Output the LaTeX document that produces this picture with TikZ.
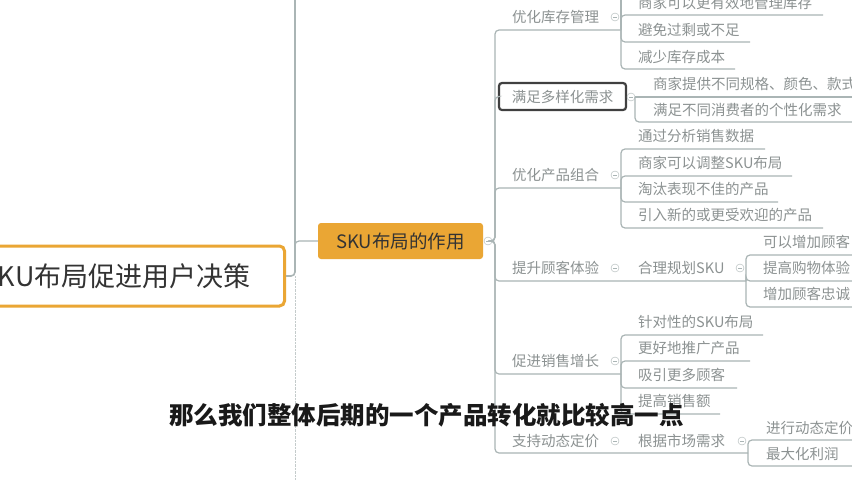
\documentclass[tikz,border=0pt]{standalone}
\usepackage{fontspec}
\setmainfont{Noto Sans CJK SC}
\usetikzlibrary{calc}

\definecolor{linegray}{HTML}{AAB5B5}
\definecolor{topicgray}{HTML}{8C9292}
\definecolor{skuorange}{HTML}{EAA634}

\tikzset{
  topic/.style={anchor=west, inner sep=0pt, text=topicgray, font=\fontsize{14.5}{14.5}\selectfont},
  branch/.style={draw=linegray, line width=1.2pt, rounded corners=4pt},
  fold/.style={circle, draw=linegray, fill=white, inner sep=0pt, minimum size=8pt,
    path picture={\draw[linegray, line width=0.7pt] ([xshift=-1.8pt]path picture bounding box.center) -- ([xshift=1.8pt]path picture bounding box.center);}}
}

\begin{document}
\begin{tikzpicture}[x=1pt, y=-1pt]
    \clip (0,0) rectangle (852,480);
    \fill[white] (0,0) rectangle (852,480);

    \coordinate (trunkTop) at (295,0);
    \coordinate (trunk) at (295,276);
    \coordinate (spine) at (495,241);

    \node[draw=skuorange, line width=3pt, rounded corners=5pt, fill=white, anchor=east,
          minimum height=60pt, inner xsep=34pt, text=black!80,
          font=\fontsize{27}{27}\selectfont] (root) at (286,276) {SKU布局促进用户决策};

    \draw[branch, line width=1.6pt] (root.east) -- (trunk) -- (trunkTop);
    \draw[linegray!70, densely dotted] (trunk) -- (295,480);

    \node[fill=skuorange, rounded corners=3pt, minimum width=165pt, minimum height=36pt,
          inner sep=0pt, text=black!80, font=\fontsize{18.5}{18.5}\selectfont] (sku) at (400.5,241) {SKU布局的作用};
    \draw[branch] (295,258) |- (sku.west);
    \node[fold] (skufold) at (488,241) {};

    % branches with underline and bracket at x=621
    \foreach \name/\txt/\y in {stock/优化库存管理/17, mix/优化产品组合/175, grow/促进销售增长/361} {
        \node[topic] (\name) at (512,\y) {\txt};
        \coordinate (\name-joint) at (621,\y+13);
        \draw[branch] (skufold.east) -- (spine) |- (\name-joint);
        \node[fold] (\name-fold) at (615,\y) {};
    }

    \draw[branch] (stock-joint) -- (621,0);
    \foreach \txt/\y/\x in {商家可以更有效地管理库存/15/823, 避免过剩或不足/42/750, 减少库存成本/69/735} {
        \node[topic] (stock\y) at (638,\y-12) {\txt};
        \draw[branch] (stock-joint) |- (\x,\y);
    }

    \foreach \txt/\y/\x in {通过分析销售数据/149/765, 商家可以调整SKU布局/176/792, 淘汰表现不佳的产品/202/778, 引入新的或更受欢迎的产品/228/823} {
        \node[topic] (mix\y) at (638,\y-13) {\txt};
        \draw[branch] (mix-joint) |- (\x,\y);
    }

    \foreach \txt/\y/\x in {针对性的SKU布局/335/763, 更好地推广产品/361/750, 吸引更多顾客/388/737, 提高销售额/414/720} {
        \node[topic] (grow\y) at (638,\y-13) {\txt};
        \draw[branch] (grow-joint) |- (\x,\y);
    }

    % selected branch
    \node[draw=black!75, line width=2.2pt, rounded corners=3pt, fill=white, minimum width=127pt,
          minimum height=27pt, inner sep=0pt, text=topicgray,
          font=\fontsize{14.5}{14.5}\selectfont] (variety) at (562.5,96.5) {满足多样化需求};
    \draw[branch] (skufold.east) -- (spine) |- (variety.west);
    \node[fold] (variety-fold) at (631,97) {};
    \coordinate (variety-joint) at (635,97);
    \draw[branch] (variety-fold.east) -- (852,97);
    \draw[branch] (variety-joint) |- (852,122);
    \node[topic] (variety1) at (653,84) {商家提供不同规格、颜色、款式};
    \node[topic] (variety2) at (653,110) {满足不同消费者的个性化需求};

    % customer experience
    \node[topic] (service) at (512,268) {提升顾客体验};
    \node[fold] (service-fold) at (615,268) {};
    \node[topic] (plan) at (638,268) {合理规划SKU};
    \node[fold] (plan-fold) at (740,268) {};
    \coordinate (plan-joint) at (746,281);
    \draw[branch] (skufold.east) -- (spine) |- (plan-joint);
    \foreach \txt/\y in {可以增加顾客/255, 提高购物体验/281, 增加顾客忠诚/307} {
        \node[topic] (plan\y) at (763,\y-13) {\txt};
        \draw[branch] (plan-joint) |- (852,\y);
    }

    % dynamic pricing
    \node[topic] (pricing) at (512,441) {支持动态定价};
    \node[fold] (pricing-fold) at (615,441) {};
    \node[topic] (market) at (638,441) {根据市场需求};
    \node[fold] (market-fold) at (742,441) {};
    \coordinate (market-joint) at (748,453);
    \draw[branch] (skufold.east) -- (spine) |- (market-joint);
    \foreach \txt/\y in {进行动态定价/440, 最大化利润/466} {
        \node[topic] (market\y) at (766,\y-12) {\txt};
        \draw[branch] (market-joint) |- (852,\y);
    }

    \node[text=black!90, font=\bfseries\fontsize{24.5}{24.5}\selectfont] (caption) at (426.5,415) {那么我们整体后期的一个产品转化就比较高一点};
\end{tikzpicture}
\end{document}
